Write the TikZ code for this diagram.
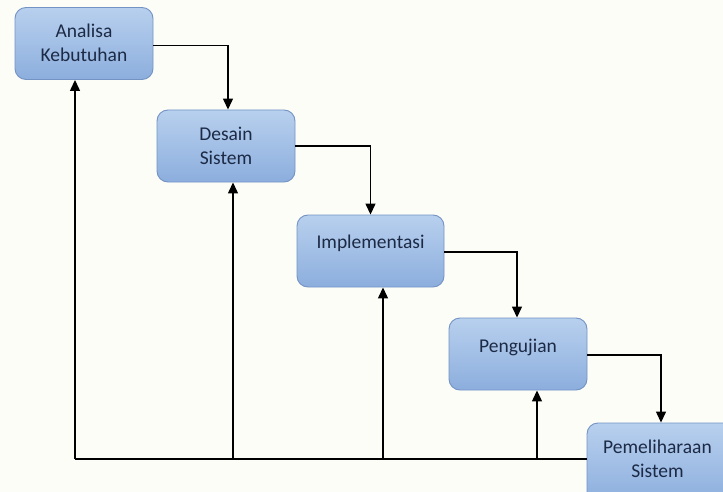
\documentclass[tikz,border=0pt]{standalone}
\usepackage{fontspec}
\setmainfont{Carlito}
\usetikzlibrary{arrows.meta}
\definecolor{bg}{HTML}{FDFDF8}
\definecolor{boxtop}{HTML}{B8D0EE}
\definecolor{boxbot}{HTML}{8CAEDD}
\definecolor{boxline}{HTML}{7393C4}
\definecolor{txt}{HTML}{1C2A45}
\tikzset{
  stage/.style={rectangle, rounded corners=11pt, draw=boxline, line width=0.9pt,
    top color=boxtop, bottom color=boxbot, minimum width=138pt, minimum height=72pt, inner sep=0pt},
  lbl/.style={text=txt, align=center, font=\fontsize{19.5}{24}\selectfont, inner sep=0pt},
  arr/.style={draw=black, line width=1.3pt, -{Triangle[length=11pt,width=10pt]}},
  ln/.style={draw=black, line width=1.3pt}
}
\begin{document}
\begin{tikzpicture}[x=1pt,y=-1pt]
\fill[bg] (0,0) rectangle (723,492);
\useasboundingbox (0,0) rectangle (723,492);
\clip (0,0) rectangle (723,492);
\node[stage] (b1) at (84,43.5) {};
\node[stage, minimum width=138pt] (b2) at (226,146) {};
\node[stage, minimum width=147pt] (b3) at (370.5,251) {};
\node[stage] (b4) at (518,354) {};
\node[stage, minimum width=150pt, minimum height=80pt] (b5) at (662,463) {};
\node[lbl] (t1) at (84,43) {Analisa\\Kebutuhan};
\node[lbl] (t2) at (226,146) {Desain\\Sistem};
\node[lbl] (t3) at (370.5,243) {Implementasi};
\node[lbl] (t4) at (518,347) {Pengujian};
\node[lbl] (t5) at (657.5,459) {Pemeliharaan\\Sistem};
% forward flow
\draw[arr] ([yshift=-2pt]b1.east) -| ([xshift=2pt]b2.north);
\draw[arr] (b2.east) -| (b3.north);
\draw[arr] ([yshift=-1pt]b3.east) -| ([xshift=-1pt]b4.north);
\draw[arr] ([yshift=-1pt]b4.east) -| ([xshift=-1pt]b5.north);
% feedback
\coordinate (c1) at (75,459);
\coordinate (c2) at (233,459);
\coordinate (c3) at (383,459);
\coordinate (c4) at (537,459);
\draw[ln] (b5.west |- c1) -- (c1);
\draw[arr] (c1) -- (c1 |- b1.south);
\draw[arr] (c2) -- (c2 |- b2.south);
\draw[arr] (c3) -- (c3 |- b3.south);
\draw[arr] (c4) -- (c4 |- b4.south);
\end{tikzpicture}
\end{document}
